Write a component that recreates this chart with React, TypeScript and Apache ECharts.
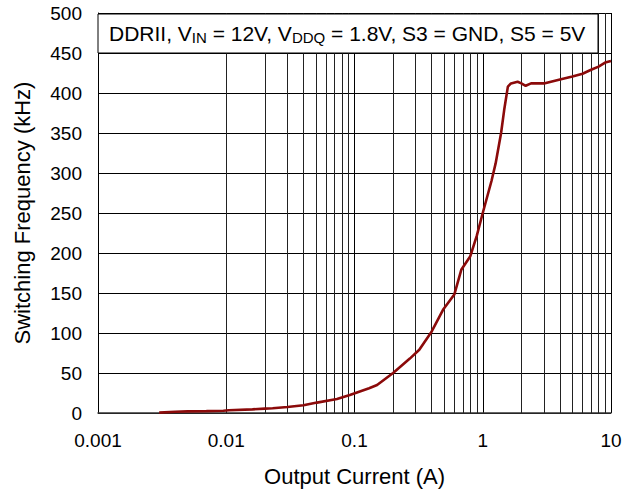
import React, { useEffect, useRef } from "react";
import * as echarts from "echarts";

const currentA = [0.003, 0.004, 0.005, 0.007, 0.0095, 0.0105, 0.016, 0.02, 0.023, 0.03, 0.04, 0.051, 0.073, 0.092, 0.13, 0.15, 0.2, 0.27, 0.32, 0.4, 0.49, 0.6, 0.68, 0.8, 0.9, 1.0, 1.17, 1.26, 1.39, 1.47, 1.57, 1.66, 1.87, 2.0, 2.16, 2.38, 3.0, 4.0, 5.0, 6.0, 7.0, 8.0, 9.0, 10];
const freqKHz = [0.5, 1.5, 2, 2.3, 2.8, 3.4, 4.5, 5.5, 6, 7.5, 9.6, 13, 17.5, 22.5, 31, 35, 50, 68, 79, 102, 129, 148, 179, 196, 222, 250, 290, 312, 350, 379, 408, 412, 414, 412, 409, 412, 412, 417, 420.5, 424, 429, 433, 438, 440];
const minorGridX = [
  0.002, 0.003, 0.004, 0.005, 0.006, 0.007, 0.008, 0.009,
  0.02, 0.03, 0.04, 0.05, 0.06, 0.07, 0.08, 0.09,
  0.2, 0.3, 0.4, 0.5, 0.6, 0.7, 0.8, 0.9,
  2, 3, 4, 5, 6, 7, 8, 9,
];
const xTickLabels = ["0.001", "0.01", "0.1", "1", "10"];
const FONT = "Liberation Sans, Arial, sans-serif";

export default function App() {
  const ref = useRef<HTMLDivElement>(null);
  useEffect(() => {
    if (!ref.current) return;
    const chart = echarts.init(ref.current, undefined, { renderer: "svg" });
    const data = currentA.map((x, i) => [x, freqKHz[i]]);
    chart.setOption({
      animation: false,
      backgroundColor: "#fff",
      textStyle: { fontFamily: FONT },
      grid: { left: 98, right: 31, top: 13, bottom: 82, containLabel: false, outerBoundsMode: "none" },
      xAxis: {
        type: "log",
        logBase: 10,
        min: 0.001,
        max: 10,
        name: "Output Current (A)",
        nameLocation: "middle",
        nameGap: 52,
        nameTextStyle: { fontSize: 22, color: "#000", fontFamily: FONT },
        axisLine: { show: true, lineStyle: { color: "#333", width: 1.5 } },
        axisTick: { show: false },
        splitLine: { show: true, lineStyle: { color: "#000", width: 1 } },
        axisLabel: {
          fontSize: 19,
          color: "#000",
          margin: 18,
          fontFamily: FONT,
          formatter: (v: number) => {
            const idx = Math.round(Math.log10(v)) + 3;
            return xTickLabels[idx] ?? String(v);
          },
        },
      },
      yAxis: {
        type: "value",
        min: 0,
        max: 500,
        interval: 50,
        name: "Switching Frequency (kHz)",
        nameLocation: "middle",
        nameGap: 65,
        nameTextStyle: { fontSize: 22, color: "#000", fontFamily: FONT },
        axisLine: { show: true, lineStyle: { color: "#000", width: 1 } },
        axisTick: { show: false },
        splitLine: { show: true, lineStyle: { color: "#000", width: 1 } },
        axisLabel: { fontSize: 19, color: "#000", margin: 16, fontFamily: FONT },
      },
      graphic: [
        {
          type: "rect",
          z: 100,
          shape: { x: 98, y: 14, width: 500, height: 39 },
          style: { fill: "#fff", stroke: "#000", lineWidth: 1 },
        },
        {
          type: "text",
          z: 101,
          x: 109,
          y: 33,
          style: {
            text: "{n|DDRII, V}{s|IN}{n| = 12V, V}{s|DDQ}{n| = 1.8V, S3 = GND, S5 = 5V}",
            verticalAlign: "middle",
            fill: "#000",
            fontFamily: FONT,
            fontSize: 21,
            rich: {
              n: { fontSize: 21, lineHeight: 24, fontFamily: FONT, fill: "#000" },
              s: { fontSize: 15, lineHeight: 17, verticalAlign: "bottom", fontFamily: FONT, fill: "#000" },
            },
          },
        },
      ],
      series: [
        {
          type: "line",
          data,
          showSymbol: false,
          symbol: "none",
          smooth: false,
          z: 10,
          lineStyle: { color: "#8B0A0A", width: 2.6 },
          markLine: {
            silent: true,
            symbol: ["none", "none"],
            label: { show: false },
            z: 1,
            lineStyle: { color: "#222", width: 1, type: "solid" },
            data: minorGridX.map((v) => ({ xAxis: v })),
          },
        },
      ],
    });
    return () => chart.dispose();
  }, []);
  return (
    <div
      ref={ref}
      style={{ position: "fixed", left: 0, top: 0, width: 642, height: 495 }}
    />
  );
}
